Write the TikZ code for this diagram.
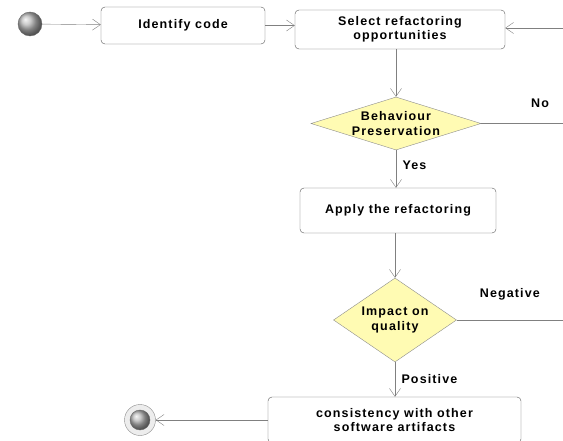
\documentclass[tikz,border=0pt]{standalone}
\usepackage{fontspec}
\setmainfont{Liberation Sans}[LetterSpace=9]
\usetikzlibrary{shapes.geometric,arrows.meta,positioning}

\begin{document}
\begin{tikzpicture}[x=1pt,y=-1pt,
    font=\fontsize{12.5}{14.5}\selectfont\bfseries,
    action/.style={draw=black!65, rounded corners=4pt, fill=white, align=center, inner sep=0pt},
    decision/.style={diamond, aspect=3, draw=black!45, fill=yellow!30, align=center, inner ysep=-11pt},
    flow/.style={draw=black!50, -{Straight Barb[length=8pt,width=11pt]}}]
    \clip (0,0) rectangle (563,441);

    % Start and end points
    \node[circle, minimum size=24pt, inner sep=0pt, ball color=gray!55, draw=black!60] (start) at (30,24) {};
    \node[circle, minimum size=31pt, inner sep=0pt, draw=black!45, fill=black!7] (stop) at (140,420) {};
    \node[circle, minimum size=20pt, inner sep=0pt, ball color=gray!55, draw=black!60] (stopin) at (stop) {};

    % Activities
    \node[action, minimum width=164pt, minimum height=37pt] (ident) at (183,25.5) {Identify code};
    \node[action, minimum width=210pt, minimum height=39pt] (select) at (400,29.5) {Select refactoring\\opportunities};
    \node[action, minimum width=196pt, minimum height=45pt] (apply) at (398,210.5) {Apply the refactoring};
    \node[action, minimum width=253pt, minimum height=46pt] (consist) at (394.5,420) {consistency with other\\software artifacts};

    % Decisions
    \node[decision, inner xsep=-46pt, minimum width=170pt, minimum height=53pt] (behav) at (396,123.5) {Behaviour\\Preservation};
    \node[decision, inner xsep=-36pt, minimum width=123pt, minimum height=84pt] (impact) at (395,320) {Impact on\\quality};

    % Loose ends at the right margin
    \coordinate (rin) at (563,28);
    \coordinate (rno) at (563,123.5);
    \coordinate (rneg) at (563,320);

    % Flow
    \draw[flow] (start) -- (ident);
    \draw[flow] (ident.east) -- (ident.east -| select.west);
    \draw[flow] (rin) -- (rin -| select.east);
    \draw[flow] (select.south -| behav.north) -- (behav.north);
    \draw[flow] (behav.south) -- (apply.north -| behav.south) node[pos=0.4, right=3pt] {Yes};
    \draw[draw=black!50] (behav.east) -- (rno) node[pos=0.72, above=12pt] {No};
    \draw[flow] (apply.south -| impact.north) -- (impact.north);
    \draw[draw=black!50] (impact.east) -- (rneg) node[pos=0.5, above=16pt] {Negative};
    \draw[flow] (impact.south) -- (consist.north -| impact.south) node[pos=0.5, right=3pt] {Positive};
    \draw[flow] (consist.west) -- (stop);
  \end{tikzpicture}
\end{document}
